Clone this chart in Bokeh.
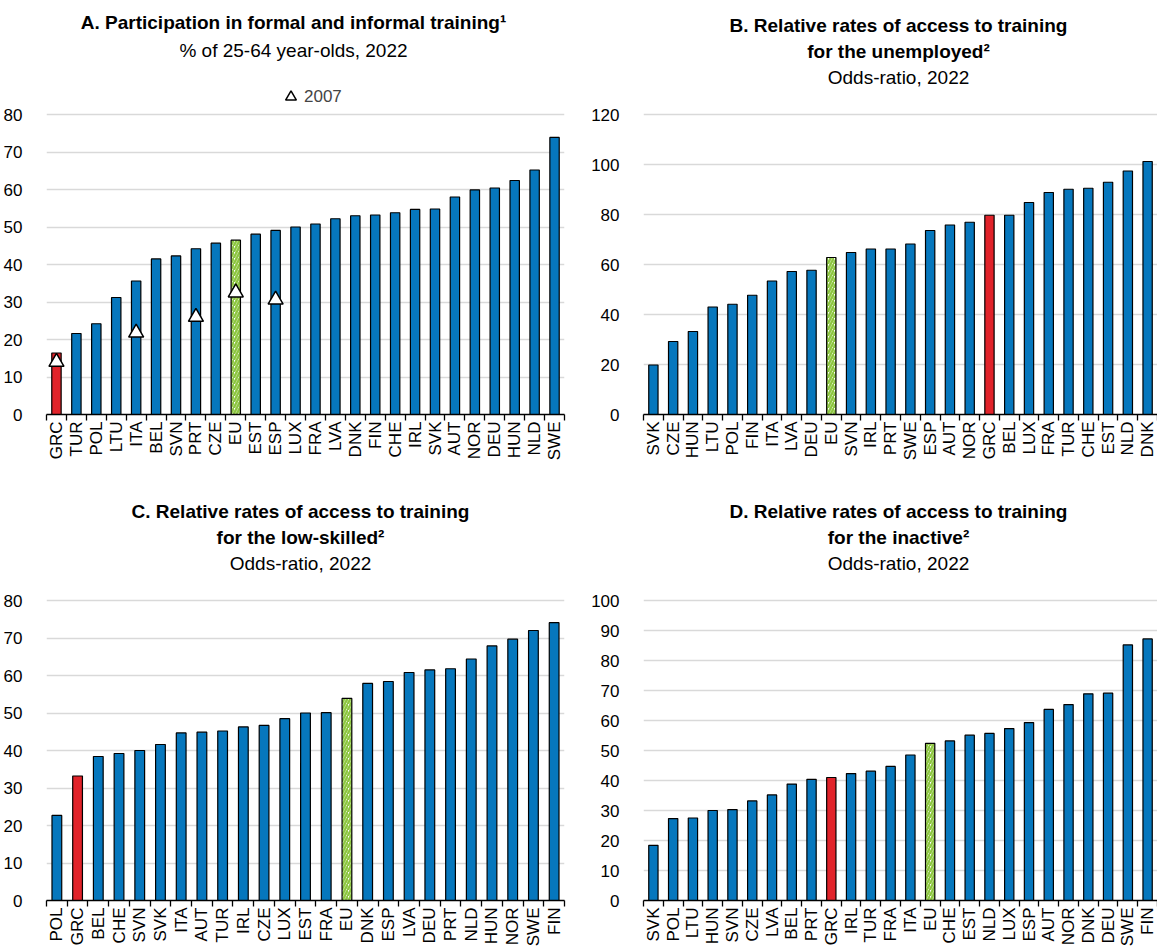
import math
from bokeh.plotting import figure
from bokeh.models import (Range1d, LinearAxis, FixedTicker, CustomJSTickFormatter,
                          Label, Legend, LegendItem, ColumnDataSource)
from bokeh.layouts import column, row
from bokeh.embed import file_html
from bokeh.resources import INLINE

# ---------------- data ----------------
a_countries = ["GRC", "TUR", "POL", "LTU", "ITA", "BEL", "SVN", "PRT", "CZE", "EU", "EST", "ESP", "LUX",
               "FRA", "LVA", "DNK", "FIN", "CHE", "IRL", "SVK", "AUT", "NOR", "DEU", "HUN", "NLD", "SWE"]
a_values = [16.4, 21.6, 24.2, 31.2, 35.6, 41.5, 42.3, 44.2, 45.7, 46.5, 48.1, 49.1, 50.0,
            50.8, 52.2, 53.0, 53.2, 53.8, 54.7, 54.8, 58.0, 59.9, 60.4, 62.4, 65.2, 73.9]
a2007_countries = ["GRC", "ITA", "PRT", "EU", "ESP"]
a2007_values = [14.0, 21.8, 26.0, 32.5, 30.6]

b_countries = ["SVK", "CZE", "HUN", "LTU", "POL", "FIN", "ITA", "LVA", "DEU", "EU", "SVN", "IRL", "PRT",
               "SWE", "ESP", "AUT", "NOR", "GRC", "BEL", "LUX", "FRA", "TUR", "CHE", "EST", "NLD", "DNK"]
b_values = [19.8, 29.2, 33.2, 43.0, 44.1, 47.7, 53.4, 57.2, 57.7, 62.8, 64.8, 66.2, 66.2,
            68.2, 73.6, 75.8, 76.9, 79.7, 79.7, 84.8, 88.8, 90.1, 90.5, 92.9, 97.4, 101.2]

c_countries = ["POL", "GRC", "BEL", "CHE", "SVN", "SVK", "ITA", "AUT", "TUR", "IRL", "CZE", "LUX", "EST",
               "FRA", "EU", "DNK", "ESP", "LVA", "DEU", "PRT", "NLD", "HUN", "NOR", "SWE", "FIN"]
c_values = [22.7, 33.2, 38.4, 39.2, 40.0, 41.6, 44.7, 44.9, 45.2, 46.3, 46.7, 48.5, 50.0,
            50.1, 53.9, 57.9, 58.4, 60.8, 61.5, 61.8, 64.4, 67.9, 69.7, 72.0, 74.1]

d_countries = ["SVK", "POL", "LTU", "HUN", "SVN", "CZE", "LVA", "BEL", "PRT", "GRC", "IRL", "TUR", "FRA",
               "ITA", "EU", "CHE", "EST", "NLD", "LUX", "ESP", "AUT", "NOR", "DNK", "DEU", "SWE", "FIN"]
d_values = [18.4, 27.3, 27.5, 30.0, 30.3, 33.2, 35.2, 38.8, 40.4, 41.0, 42.3, 43.1, 44.7,
            48.5, 52.4, 53.2, 55.1, 55.7, 57.3, 59.3, 63.7, 65.3, 68.9, 69.1, 85.2, 87.2]

a_yticks = [0, 10, 20, 30, 40, 50, 60, 70, 80]
b_yticks = [0, 20, 40, 60, 80, 100, 120]
c_yticks = [0, 10, 20, 30, 40, 50, 60, 70, 80]
d_yticks = [0, 10, 20, 30, 40, 50, 60, 70, 80, 90, 100]

a_title = ["A. Participation in formal and informal training\u00b9"]
a_sub = "% of 25-64 year-olds, 2022"
b_title = ["B. Relative rates of access to training", "for the unemployed\u00b2"]
c_title = ["C. Relative rates of access to training", "for the low-skilled\u00b2"]
d_title = ["D. Relative rates of access to training", "for the inactive\u00b2"]
odds_sub = "Odds-ratio, 2022"
legend_label = "2007"

# ---------------- style ----------------
FONT = "'Liberation Sans Narrow', 'Arial Narrow', 'Liberation Sans', Arial, sans-serif"
BLUE = "#0677BD"
RED = "#E1232A"
GREEN = "#8CC63F"
GRID = "#D9D9D9"
TICK_FS = "17px"
TITLE_FS = "19px"
FRAME_H = 300     # height of the plotted value range
EXTRA = 105       # blank space kept above the top gridline for titles
BAR_W = 0.47


def slot(cats):
    # centre of each category slot on the numeric x scale
    return {c: i + 0.5 for i, c in enumerate(cats)}


def make_panel(cats, vals, yticks, title_lines, subtitle, frame_w, left, right, top, bottom,
               sub_gap, title_dx):
    n = len(cats)
    pos = slot(cats)
    ymax = yticks[-1]
    ytop = ymax * (FRAME_H + EXTRA) / FRAME_H
    p = figure(x_range=Range1d(0, n), y_range=Range1d(yticks[0], ytop),
               frame_width=frame_w, frame_height=FRAME_H + EXTRA,
               min_border_left=left, min_border_right=right,
               min_border_top=top, min_border_bottom=bottom,
               x_axis_location=None, output_backend="svg", toolbar_location=None)
    p.outline_line_color = None
    p.background_fill_color = "white"
    p.border_fill_color = "white"

    # y axis & grid
    p.yaxis.ticker = FixedTicker(ticks=yticks)
    p.yaxis.axis_line_color = None
    p.yaxis.major_tick_line_color = None
    p.yaxis.minor_tick_line_color = None
    p.yaxis.major_label_standoff = 18
    p.yaxis.major_label_text_font = FONT
    p.yaxis.major_label_text_font_size = TICK_FS
    p.yaxis.major_label_text_color = "black"
    p.ygrid.grid_line_color = GRID
    p.ygrid.grid_line_width = 1.6
    p.xgrid.visible = False

    # x axis: labels at slot centres, separator ticks at slot edges
    xax = LinearAxis(ticker=FixedTicker(ticks=[pos[c] for c in cats],
                                        minor_ticks=list(range(n + 1))),
                     formatter=CustomJSTickFormatter(args=dict(labels=cats),
                                                     code="return labels[Math.floor(tick)];"),
                     axis_line_color="black", axis_line_width=1.6,
                     major_tick_line_color=None, major_tick_in=0, major_tick_out=0,
                     minor_tick_line_color="black", minor_tick_line_width=1.3,
                     minor_tick_in=0, minor_tick_out=6,
                     major_label_orientation=math.pi / 2,
                     major_label_standoff=1,
                     major_label_text_font=FONT,
                     major_label_text_font_size=TICK_FS,
                     major_label_text_color="black")
    p.add_layout(xax, "below")

    # bars
    xs = [pos[c] for c in cats if c != "EU"]
    tops = [v for c, v in zip(cats, vals) if c != "EU"]
    cols = [RED if c == "GRC" else BLUE for c in cats if c != "EU"]
    src = ColumnDataSource(dict(x=xs, top=tops, color=cols))
    p.vbar(x="x", top="top", width=BAR_W, bottom=0, source=src, fill_color="color",
           line_color="black", line_width=1.2)
    eu_x = [pos[c] for c in cats if c == "EU"]
    eu_top = [v for c, v in zip(cats, vals) if c == "EU"]
    p.vbar(x=eu_x, top=eu_top, width=BAR_W, bottom=0, fill_color="white",
           hatch_pattern="/", hatch_color=GREEN, hatch_weight=2.4, hatch_scale=6,
           line_color="black", line_width=1.2)

    # titles (inside the frame, above the top gridline)
    cx = frame_w / 2 + title_dx
    nlines = len(title_lines)
    base = FRAME_H + sub_gap + 6
    for i, txt in enumerate(title_lines):
        y = base + 26 * (nlines - i) + (2 if nlines == 1 else 0)
        p.add_layout(Label(x=cx, y=y, x_units="screen", y_units="screen", text=txt,
                           text_align="center", text_baseline="alphabetic",
                           text_font=FONT, text_font_size=TITLE_FS, text_font_style="bold",
                           text_color="black"))
    p.add_layout(Label(x=cx, y=base, x_units="screen", y_units="screen", text=subtitle,
                       text_align="center", text_baseline="alphabetic",
                       text_font=FONT, text_font_size=TITLE_FS, text_font_style="normal",
                       text_color="black"))
    return p, pos


pA, posA = make_panel(a_countries, a_values, a_yticks, a_title, a_sub, 518, 44, 24, 9, 80, 58, -12)
pB, _ = make_panel(b_countries, b_values, b_yticks, b_title, odds_sub, 514, 52, 0, 9, 80, 31, -2)
pC, _ = make_panel(c_countries, c_values, c_yticks, c_title, odds_sub, 518, 44, 24, 1, 47, 31, -5)
pD, _ = make_panel(d_countries, d_values, d_yticks, d_title, odds_sub, 514, 52, 0, 1, 47, 31, -2)

# 2007 markers + legend on panel A
tri = pA.scatter(x=[posA[c] for c in a2007_countries], y=a2007_values, marker="triangle", size=15,
                 fill_color="white", line_color="black", line_width=1.5)
leg = Legend(items=[LegendItem(label=legend_label, renderers=[tri])],
             location=(231, FRAME_H + 4), orientation="horizontal",
             padding=0, margin=0, spacing=0, border_line_color=None,
             background_fill_alpha=0, glyph_width=27, glyph_height=27,
             label_standoff=0, label_text_font=FONT, label_text_font_size=TICK_FS,
             label_height=22)
pA.add_layout(leg)

layout = column(row(pA, pB), row(pC, pD))
open("out.html", "w").write(file_html(layout, INLINE))
